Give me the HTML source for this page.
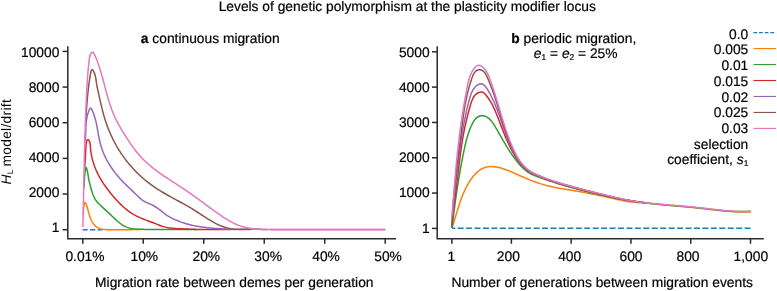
<!DOCTYPE html>
<html><head><meta charset="utf-8"><title>Levels of genetic polymorphism</title>
<style>
html,body{margin:0;padding:0;background:#fff;}
body{width:777px;height:291px;overflow:hidden;}
svg{display:block;}
svg text{font-family:"Liberation Sans",sans-serif;font-size:13.8px;fill:#000;stroke:#000;stroke-width:0.2px;text-rendering:geometricPrecision;}
</style></head><body>
<svg width="777" height="291" viewBox="0 0 777 291">
<defs><filter id="gs" x="0" y="0" width="777" height="291" filterUnits="userSpaceOnUse" color-interpolation-filters="sRGB"><feColorMatrix type="saturate" values="0"/></filter></defs>
<rect width="777" height="291" fill="#fff"/>
<g>
<path d="M82.6 229.8 H102.5" stroke="#1f77b4" stroke-width="1.5" stroke-dasharray="5.3 2.43" stroke-dashoffset="0.3" fill="none"/>
<path d="M83.31 214.84 L83.30 213.58 L83.32 212.27 L83.37 210.88 L83.47 209.38 L83.63 207.73 L83.86 205.90 L84.19 204.01 L84.70 202.75 L85.45 202.84 L86.10 204.08 L86.64 205.56 L87.13 207.04 L87.57 208.53 L87.98 210.01 L88.37 211.48 L88.77 212.95 L89.17 214.39 L89.61 215.83 L90.08 217.23 L90.61 218.62 L91.21 219.97 L91.89 221.30 L92.67 222.58 L93.57 223.83 L94.58 225.02 L95.70 226.13 L96.91 227.12 L98.21 227.96 L99.58 228.62 L101.01 229.07 L102.48 229.31 L103.97 229.45 L105.47 229.55 L106.97 229.63 L108.48 229.69 L109.98 229.74 L111.49 229.77 L113.00 229.78 L114.51 229.79 L116.02 229.79 L117.54 229.78 L119.05 229.76 L120.56 229.74 L122.08 229.73 L123.59 229.71 L125.11 229.69 L126.62 229.68 L128.13 229.66 L129.65 229.65 L131.16 229.63 L132.67 229.62 L134.19 229.61 L135.70 229.60 L137.22 229.58 L138.73 229.57 L140.00 229.60 L141.76 229.60" fill="none" stroke="#ff7f0e" stroke-width="1.5" stroke-linejoin="round" stroke-linecap="butt"/>
<path d="M84.01 187.89 L84.07 186.40 L84.13 184.91 L84.20 183.41 L84.27 181.91 L84.36 180.40 L84.46 178.88 L84.57 177.35 L84.69 175.80 L84.84 174.24 L85.00 172.65 L85.19 171.04 L85.40 169.42 L85.65 168.01 L85.98 167.36 L86.41 167.88 L86.87 169.20 L87.29 170.80 L87.62 172.39 L87.89 173.95 L88.13 175.49 L88.37 177.01 L88.64 178.52 L88.92 180.02 L89.23 181.50 L89.56 182.98 L89.91 184.45 L90.28 185.90 L90.67 187.35 L91.09 188.79 L91.52 190.23 L91.97 191.65 L92.45 193.07 L92.97 194.48 L93.53 195.86 L94.14 197.22 L94.83 198.54 L95.60 199.83 L96.45 201.07 L97.41 202.26 L98.46 203.39 L99.55 204.49 L100.67 205.55 L101.78 206.59 L102.88 207.61 L103.97 208.61 L105.06 209.60 L106.15 210.58 L107.24 211.57 L108.33 212.57 L109.42 213.58 L110.51 214.61 L111.61 215.67 L112.72 216.74 L113.83 217.82 L114.96 218.90 L116.11 219.97 L117.27 221.02 L118.44 222.04 L119.64 223.01 L120.86 223.93 L122.11 224.79 L123.39 225.58 L124.69 226.29 L126.03 226.90 L127.40 227.42 L128.79 227.86 L130.22 228.21 L131.66 228.50 L133.13 228.72 L134.61 228.90 L136.11 229.03 L137.62 229.13 L139.13 229.20 L140.65 229.26 L142.18 229.31 L143.70 229.35 L145.22 229.39 L146.74 229.43 L148.26 229.47 L149.78 229.51 L150.00 229.60 L196.72 229.60" fill="none" stroke="#2ca02c" stroke-width="1.5" stroke-linejoin="round" stroke-linecap="butt"/>
<path d="M84.77 166.87 L84.86 165.39 L84.95 163.91 L85.04 162.43 L85.13 160.94 L85.22 159.44 L85.31 157.94 L85.40 156.42 L85.49 154.89 L85.58 153.35 L85.67 151.79 L85.75 150.21 L85.83 148.61 L85.91 146.99 L86.00 145.37 L86.15 143.78 L86.40 142.29 L86.79 140.95 L87.37 139.90 L88.09 139.59 L88.87 140.23 L89.53 141.41 L89.96 142.79 L90.21 144.30 L90.35 145.87 L90.46 147.47 L90.59 149.07 L90.76 150.64 L90.97 152.20 L91.21 153.74 L91.49 155.26 L91.79 156.77 L92.13 158.27 L92.50 159.75 L92.91 161.21 L93.34 162.66 L93.80 164.09 L94.29 165.51 L94.81 166.92 L95.36 168.31 L95.93 169.69 L96.53 171.05 L97.16 172.41 L97.81 173.75 L98.48 175.08 L99.18 176.39 L99.90 177.70 L100.64 178.99 L101.41 180.27 L102.19 181.54 L103.00 182.80 L103.82 184.05 L104.66 185.29 L105.52 186.51 L106.40 187.73 L107.30 188.94 L108.21 190.14 L109.13 191.33 L110.07 192.52 L111.03 193.69 L112.00 194.86 L112.98 196.02 L113.97 197.17 L114.97 198.31 L115.99 199.44 L117.02 200.57 L118.06 201.68 L119.11 202.77 L120.18 203.85 L121.27 204.91 L122.37 205.96 L123.49 206.98 L124.62 207.97 L125.77 208.94 L126.94 209.89 L128.13 210.81 L129.34 211.69 L130.56 212.55 L131.81 213.37 L133.08 214.15 L134.38 214.90 L135.69 215.61 L137.02 216.29 L138.37 216.94 L139.73 217.56 L141.11 218.16 L142.50 218.74 L143.91 219.31 L145.32 219.86 L146.73 220.39 L148.15 220.93 L149.58 221.45 L151.00 221.98 L152.43 222.51 L153.85 223.05 L155.27 223.59 L156.69 224.14 L158.10 224.68 L159.52 225.21 L160.94 225.72 L162.36 226.19 L163.80 226.63 L165.24 227.03 L166.70 227.37 L168.16 227.66 L169.64 227.90 L171.12 228.11 L172.62 228.28 L174.12 228.42 L175.62 228.54 L177.13 228.64 L178.64 228.72 L180.15 228.80 L181.66 228.87 L183.17 228.93 L184.68 229.00 L186.19 229.06 L187.71 229.12 L189.22 229.18 L190.73 229.23 L192.24 229.28 L193.75 229.33 L195.26 229.38 L196.77 229.42 L198.28 229.46 L199.79 229.50 L201.30 229.54 L202.81 229.57 L204.32 229.60 L205.83 229.60 L207.34 229.60 L208.00 229.60 L231.47 229.60" fill="none" stroke="#d62728" stroke-width="1.5" stroke-linejoin="round" stroke-linecap="butt"/>
<path d="M85.35 141.28 L85.41 139.77 L85.47 138.25 L85.53 136.73 L85.59 135.22 L85.65 133.70 L85.71 132.17 L85.77 130.65 L85.83 129.13 L85.89 127.60 L85.97 126.08 L86.07 124.56 L86.18 123.05 L86.33 121.54 L86.51 120.04 L86.74 118.54 L87.01 117.06 L87.34 115.60 L87.72 114.14 L88.18 112.70 L88.70 111.28 L89.30 109.88 L89.98 108.61 L90.70 108.09 L91.41 108.77 L92.08 110.08 L92.70 111.47 L93.28 112.88 L93.81 114.30 L94.30 115.73 L94.76 117.18 L95.18 118.64 L95.57 120.10 L95.93 121.58 L96.26 123.06 L96.58 124.55 L96.88 126.04 L97.17 127.54 L97.45 129.04 L97.72 130.54 L97.98 132.04 L98.25 133.54 L98.52 135.04 L98.80 136.53 L99.09 138.02 L99.39 139.51 L99.71 140.99 L100.05 142.46 L100.42 143.92 L100.81 145.37 L101.23 146.82 L101.69 148.25 L102.18 149.66 L102.69 151.07 L103.24 152.47 L103.81 153.85 L104.41 155.22 L105.04 156.58 L105.70 157.93 L106.38 159.27 L107.09 160.59 L107.82 161.90 L108.58 163.20 L109.36 164.48 L110.16 165.76 L110.98 167.01 L111.83 168.26 L112.69 169.49 L113.58 170.71 L114.48 171.92 L115.40 173.12 L116.35 174.29 L117.30 175.46 L118.28 176.61 L119.27 177.75 L120.28 178.88 L121.30 179.99 L122.33 181.08 L123.38 182.17 L124.43 183.25 L125.50 184.31 L126.57 185.37 L127.65 186.43 L128.74 187.47 L129.83 188.52 L130.93 189.56 L132.02 190.59 L133.12 191.63 L134.22 192.67 L135.31 193.71 L136.41 194.75 L137.50 195.80 L138.58 196.85 L139.67 197.89 L140.78 198.90 L141.93 199.85 L143.14 200.72 L144.42 201.49 L145.77 202.16 L147.17 202.76 L148.58 203.34 L150.00 203.94 L151.38 204.57 L152.74 205.25 L154.06 205.98 L155.36 206.75 L156.63 207.56 L157.87 208.40 L159.08 209.28 L160.27 210.19 L161.43 211.11 L162.59 212.05 L163.75 212.98 L164.93 213.89 L166.16 214.77 L167.41 215.60 L168.70 216.40 L170.02 217.16 L171.37 217.88 L172.73 218.58 L174.11 219.24 L175.50 219.86 L176.90 220.46 L178.31 221.04 L179.72 221.58 L181.14 222.10 L182.56 222.59 L183.99 223.05 L185.43 223.49 L186.87 223.91 L188.32 224.31 L189.77 224.68 L191.23 225.03 L192.69 225.36 L194.16 225.67 L195.63 225.96 L197.10 226.24 L198.58 226.49 L200.06 226.73 L201.55 226.96 L203.04 227.17 L204.53 227.36 L206.02 227.55 L207.52 227.72 L209.01 227.87 L210.52 228.02 L212.02 228.16 L213.52 228.28 L215.02 228.40 L216.53 228.51 L218.04 228.62 L219.54 228.72 L221.05 228.81 L222.56 228.90 L224.06 228.98 L225.57 229.06 L227.08 229.14 L228.59 229.21 L230.09 229.28 L231.60 229.34 L233.11 229.40 L234.61 229.46 L236.12 229.51 L237.63 229.56 L239.13 229.60 L240.64 229.60 L242.15 229.60 L243.66 229.60 L245.16 229.60 L246.00 229.60 L251.19 229.60" fill="none" stroke="#9467bd" stroke-width="1.5" stroke-linejoin="round" stroke-linecap="butt"/>
<path d="M85.71 121.58 L85.80 120.08 L85.89 118.58 L85.98 117.08 L86.07 115.58 L86.17 114.08 L86.27 112.58 L86.37 111.08 L86.47 109.58 L86.58 108.08 L86.69 106.59 L86.81 105.09 L86.92 103.59 L87.05 102.10 L87.17 100.60 L87.30 99.11 L87.43 97.61 L87.57 96.12 L87.71 94.62 L87.86 93.12 L88.02 91.62 L88.18 90.12 L88.36 88.61 L88.54 87.10 L88.73 85.59 L88.93 84.08 L89.13 82.56 L89.36 81.03 L89.59 79.50 L89.83 77.97 L90.09 76.43 L90.36 74.89 L90.64 73.33 L90.94 71.79 L91.30 70.45 L91.81 69.68 L92.53 69.79 L93.35 70.80 L94.11 72.36 L94.74 74.01 L95.22 75.59 L95.58 77.11 L95.85 78.59 L96.07 80.04 L96.25 81.48 L96.44 82.91 L96.66 84.35 L96.91 85.80 L97.19 87.26 L97.49 88.72 L97.82 90.20 L98.15 91.68 L98.49 93.16 L98.82 94.64 L99.16 96.12 L99.49 97.60 L99.82 99.08 L100.16 100.55 L100.49 102.03 L100.83 103.50 L101.17 104.97 L101.52 106.44 L101.87 107.91 L102.23 109.37 L102.60 110.83 L102.98 112.29 L103.37 113.74 L103.77 115.19 L104.19 116.64 L104.61 118.08 L105.06 119.52 L105.52 120.96 L105.99 122.39 L106.48 123.81 L106.98 125.23 L107.50 126.64 L108.04 128.05 L108.59 129.46 L109.15 130.85 L109.74 132.24 L110.33 133.63 L110.94 135.00 L111.57 136.37 L112.22 137.74 L112.88 139.09 L113.55 140.44 L114.24 141.78 L114.95 143.11 L115.67 144.44 L116.40 145.75 L117.16 147.06 L117.93 148.36 L118.71 149.65 L119.51 150.93 L120.32 152.20 L121.16 153.46 L122.00 154.70 L122.86 155.94 L123.74 157.17 L124.63 158.39 L125.54 159.60 L126.46 160.79 L127.40 161.98 L128.35 163.15 L129.31 164.32 L130.29 165.47 L131.28 166.61 L132.29 167.73 L133.31 168.85 L134.34 169.95 L135.38 171.04 L136.44 172.11 L137.51 173.18 L138.59 174.23 L139.69 175.26 L140.79 176.29 L141.91 177.30 L143.04 178.29 L144.19 179.27 L145.34 180.24 L146.50 181.19 L147.68 182.13 L148.87 183.05 L150.06 183.96 L151.27 184.86 L152.49 185.73 L153.72 186.59 L154.95 187.44 L156.20 188.27 L157.46 189.09 L158.72 189.89 L159.99 190.69 L161.27 191.47 L162.56 192.24 L163.85 193.00 L165.15 193.75 L166.45 194.50 L167.76 195.24 L169.07 195.97 L170.39 196.70 L171.71 197.42 L173.03 198.15 L174.35 198.87 L175.68 199.58 L177.01 200.30 L178.33 201.02 L179.66 201.74 L180.99 202.47 L182.31 203.19 L183.64 203.92 L184.96 204.66 L186.28 205.40 L187.60 206.15 L188.91 206.91 L190.22 207.68 L191.53 208.45 L192.83 209.24 L194.12 210.04 L195.41 210.85 L196.69 211.67 L197.97 212.50 L199.25 213.33 L200.52 214.17 L201.79 215.00 L203.06 215.84 L204.33 216.67 L205.61 217.49 L206.88 218.31 L208.16 219.11 L209.44 219.90 L210.73 220.67 L212.02 221.43 L213.33 222.16 L214.63 222.87 L215.95 223.56 L217.28 224.21 L218.62 224.84 L219.96 225.44 L221.33 226.00 L222.70 226.52 L224.09 227.00 L225.49 227.44 L226.91 227.84 L228.35 228.19 L229.81 228.48 L231.28 228.73 L232.77 228.93 L234.29 229.07 L235.82 229.17 L237.36 229.23 L238.91 229.25 L240.47 229.25 L242.03 229.23 L243.60 229.19 L245.16 229.15 L246.72 229.10 L248.28 229.06 L249.83 229.02 L251.36 229.01 L252.88 229.01 L254.39 229.02 L255.89 229.05 L257.39 229.09 L258.87 229.14 L260.35 229.20 L261.83 229.26 L262.00 229.60 L267.71 229.60" fill="none" stroke="#8c564b" stroke-width="1.5" stroke-linejoin="round" stroke-linecap="butt"/>
<path d="M82.90 227.10 L82.93 225.60 L82.97 224.10 L83.00 222.60 L83.03 221.09 L83.07 219.59 L83.10 218.09 L83.13 216.58 L83.16 215.08 L83.19 213.57 L83.22 212.07 L83.25 210.56 L83.29 209.06 L83.32 207.55 L83.35 206.05 L83.38 204.54 L83.41 203.03 L83.44 201.53 L83.47 200.02 L83.50 198.51 L83.53 197.00 L83.56 195.49 L83.59 193.99 L83.62 192.48 L83.65 190.97 L83.68 189.46 L83.71 187.95 L83.74 186.44 L83.77 184.93 L83.80 183.42 L83.83 181.91 L83.86 180.40 L83.89 178.89 L83.92 177.38 L83.95 175.87 L83.98 174.36 L84.02 172.85 L84.05 171.34 L84.08 169.83 L84.11 168.32 L84.15 166.81 L84.18 165.30 L84.21 163.78 L84.25 162.27 L84.28 160.76 L84.32 159.25 L84.36 157.74 L84.39 156.23 L84.43 154.72 L84.47 153.21 L84.50 151.70 L84.54 150.19 L84.58 148.68 L84.62 147.17 L84.66 145.66 L84.70 144.15 L84.75 142.65 L84.79 141.14 L84.83 139.63 L84.88 138.12 L84.92 136.61 L84.97 135.10 L85.01 133.60 L85.06 132.09 L85.11 130.58 L85.16 129.08 L85.21 127.57 L85.26 126.06 L85.31 124.56 L85.36 123.05 L85.42 121.55 L85.47 120.04 L85.53 118.54 L85.58 117.03 L85.64 115.53 L85.70 114.03 L85.76 112.52 L85.82 111.02 L85.88 109.52 L85.94 108.02 L86.01 106.52 L86.07 105.02 L86.14 103.52 L86.21 102.02 L86.28 100.52 L86.35 99.02 L86.42 97.53 L86.49 96.03 L86.56 94.53 L86.64 93.04 L86.72 91.54 L86.80 90.05 L86.88 88.55 L86.96 87.06 L87.04 85.57 L87.12 84.07 L87.21 82.58 L87.31 81.08 L87.40 79.58 L87.50 78.08 L87.61 76.57 L87.72 75.06 L87.84 73.55 L87.96 72.03 L88.09 70.50 L88.23 68.97 L88.38 67.42 L88.53 65.88 L88.70 64.32 L88.87 62.75 L89.06 61.17 L89.25 59.59 L89.48 58.01 L89.77 56.47 L90.17 55.03 L90.72 53.73 L91.46 52.62 L92.31 52.06 L93.11 52.47 L93.85 53.54 L94.54 54.79 L95.18 56.11 L95.79 57.49 L96.38 58.90 L96.93 60.34 L97.47 61.77 L98.00 63.22 L98.50 64.66 L99.00 66.11 L99.48 67.57 L99.94 69.02 L100.39 70.48 L100.84 71.95 L101.27 73.41 L101.69 74.87 L102.11 76.34 L102.52 77.81 L102.92 79.27 L103.32 80.74 L103.71 82.21 L104.10 83.67 L104.49 85.14 L104.88 86.61 L105.27 88.07 L105.66 89.53 L106.05 90.99 L106.45 92.45 L106.85 93.91 L107.25 95.36 L107.66 96.81 L108.08 98.25 L108.51 99.69 L108.94 101.13 L109.39 102.56 L109.84 103.99 L110.31 105.41 L110.80 106.83 L111.29 108.24 L111.80 109.64 L112.33 111.04 L112.88 112.43 L113.44 113.81 L114.02 115.19 L114.63 116.56 L115.25 117.92 L115.89 119.27 L116.56 120.61 L117.24 121.95 L117.94 123.28 L118.65 124.61 L119.38 125.92 L120.12 127.24 L120.88 128.55 L121.65 129.85 L122.43 131.15 L123.22 132.44 L124.01 133.73 L124.82 135.02 L125.63 136.30 L126.45 137.59 L127.28 138.86 L128.12 140.14 L128.96 141.40 L129.81 142.66 L130.67 143.92 L131.54 145.16 L132.42 146.40 L133.32 147.63 L134.22 148.84 L135.14 150.04 L136.07 151.23 L137.02 152.41 L137.98 153.57 L138.95 154.72 L139.94 155.85 L140.95 156.96 L141.98 158.05 L143.02 159.13 L144.08 160.18 L145.15 161.22 L146.24 162.24 L147.35 163.25 L148.47 164.24 L149.60 165.22 L150.75 166.18 L151.91 167.13 L153.08 168.06 L154.26 168.98 L155.45 169.90 L156.65 170.80 L157.86 171.69 L159.08 172.57 L160.31 173.44 L161.54 174.31 L162.79 175.17 L164.03 176.02 L165.29 176.86 L166.54 177.70 L167.80 178.54 L169.07 179.37 L170.34 180.20 L171.61 181.02 L172.88 181.85 L174.15 182.67 L175.42 183.49 L176.69 184.31 L177.96 185.14 L179.23 185.96 L180.50 186.79 L181.76 187.62 L183.02 188.45 L184.28 189.28 L185.53 190.13 L186.78 190.97 L188.02 191.83 L189.25 192.68 L190.48 193.55 L191.71 194.41 L192.93 195.29 L194.15 196.16 L195.36 197.04 L196.57 197.92 L197.79 198.81 L198.99 199.69 L200.20 200.58 L201.41 201.47 L202.62 202.36 L203.82 203.25 L205.03 204.14 L206.24 205.04 L207.45 205.93 L208.66 206.82 L209.87 207.70 L211.09 208.59 L212.31 209.47 L213.53 210.36 L214.76 211.24 L215.99 212.11 L217.23 212.98 L218.47 213.85 L219.72 214.71 L220.98 215.57 L222.24 216.42 L223.51 217.26 L224.78 218.09 L226.07 218.90 L227.36 219.70 L228.67 220.47 L229.98 221.23 L231.31 221.95 L232.64 222.65 L233.99 223.32 L235.35 223.96 L236.73 224.56 L238.11 225.12 L239.51 225.64 L240.93 226.12 L242.36 226.55 L243.80 226.95 L245.25 227.31 L246.72 227.63 L248.19 227.92 L249.67 228.18 L251.16 228.41 L252.65 228.62 L254.14 228.80 L255.64 228.96 L257.14 229.10 L258.64 229.22 L260.14 229.32 L261.65 229.41 L263.15 229.48 L264.66 229.54 L266.17 229.59 L267.67 229.60 L269.18 229.60 L270.69 229.60 L272.20 229.60 L273.71 229.60 L275.22 229.60 L276.73 229.60 L278.24 229.60 L279.75 229.60 L281.26 229.60 L282.78 229.59 L283.00 229.60 L385.30 229.60" fill="none" stroke="#e377c2" stroke-width="1.5" stroke-linejoin="round" stroke-linecap="butt"/>
<path d="M270 229.65 H385.3" stroke="#e377c2" stroke-width="1.8" fill="none"/>
<path d="M452.1 228.25 H750.5" stroke="#1f77b4" stroke-width="1.5" stroke-dasharray="6.0 2.44" stroke-dashoffset="2.9" fill="none"/>
<path d="M452.00 227.80 L452.49 226.35 L452.97 224.89 L453.44 223.44 L453.90 221.99 L454.35 220.55 L454.79 219.10 L455.23 217.66 L455.67 216.21 L456.10 214.77 L456.53 213.34 L456.96 211.90 L457.40 210.47 L457.84 209.04 L458.28 207.62 L458.73 206.20 L459.19 204.78 L459.66 203.36 L460.14 201.95 L460.63 200.55 L461.14 199.14 L461.66 197.74 L462.20 196.35 L462.75 194.96 L463.33 193.57 L463.93 192.19 L464.56 190.82 L465.20 189.45 L465.88 188.08 L466.58 186.72 L467.31 185.37 L468.07 184.02 L468.86 182.68 L469.69 181.35 L470.55 180.03 L471.44 178.74 L472.37 177.48 L473.33 176.25 L474.33 175.06 L475.36 173.93 L476.42 172.86 L477.52 171.84 L478.65 170.90 L479.82 170.04 L481.03 169.26 L482.27 168.57 L483.55 167.99 L484.86 167.50 L486.21 167.13 L487.59 166.85 L489.00 166.67 L490.43 166.57 L491.88 166.57 L493.34 166.64 L494.82 166.78 L496.31 167.00 L497.81 167.28 L499.31 167.61 L500.80 168.01 L502.30 168.45 L503.78 168.93 L505.25 169.45 L506.71 170.00 L508.15 170.58 L509.58 171.18 L511.00 171.80 L512.41 172.42 L513.82 173.04 L515.22 173.66 L516.61 174.28 L518.01 174.89 L519.40 175.50 L520.79 176.11 L522.18 176.70 L523.56 177.30 L524.95 177.88 L526.33 178.46 L527.72 179.03 L529.11 179.59 L530.50 180.14 L531.89 180.68 L533.28 181.21 L534.68 181.73 L536.08 182.23 L537.49 182.72 L538.90 183.20 L540.32 183.66 L541.74 184.11 L543.17 184.54 L544.60 184.96 L546.05 185.36 L547.50 185.74 L548.96 186.10 L550.43 186.45 L551.90 186.79 L553.38 187.11 L554.86 187.42 L556.35 187.72 L557.84 188.01 L559.34 188.29 L560.84 188.56 L562.34 188.82 L563.84 189.08 L565.35 189.34 L566.85 189.59 L568.36 189.83 L569.86 190.08 L571.37 190.32 L572.87 190.56 L574.37 190.81 L575.87 191.05 L577.37 191.30 L578.86 191.56 L580.35 191.81 L581.83 192.07 L583.32 192.34 L584.80 192.60 L586.28 192.88 L587.76 193.15 L589.23 193.43 L590.71 193.71 L592.18 194.00 L593.65 194.29 L595.12 194.59 L596.59 194.89 L598.06 195.20 L599.53 195.50 L601.00 195.82 L602.47 196.14 L603.94 196.46 L605.41 196.79 L606.88 197.12 L608.35 197.46 L609.83 197.79 L611.30 198.13 L612.77 198.47 L614.25 198.80 L615.73 199.13 L617.21 199.45 L618.69 199.77 L620.17 200.07 L621.65 200.37 L623.14 200.66 L624.62 200.93 L626.11 201.19 L627.60 201.43 L629.09 201.65 L630.59 201.86 L632.08 202.05 L633.58 202.22 L635.08 202.37 L636.58 202.50 L638.09 202.63 L639.59 202.74 L641.09 202.84 L642.60 202.93 L644.11 203.02 L645.61 203.11 L647.12 203.19 L648.63 203.27 L650.14 203.36 L651.64 203.45 L653.15 203.54 L654.66 203.64 L656.16 203.74 L657.67 203.85 L659.28 204.07 L660.78 204.27 L662.28 204.47 L663.79 204.66 L665.29 204.86 L666.80 205.05 L668.30 205.24 L669.81 205.43 L671.32 205.62 L672.82 205.80 L674.33 205.91 L675.83 206.03 L677.34 206.14 L678.85 206.26 L680.35 206.38 L681.86 206.51 L683.36 206.63 L684.86 206.76 L686.37 206.89 L687.87 207.03 L689.37 207.17 L690.87 207.31 L692.37 207.46 L693.87 207.62 L695.37 207.77 L696.87 207.94 L698.37 208.10 L699.86 208.27 L701.36 208.44 L702.86 208.61 L704.35 208.78 L705.85 208.95 L707.34 209.12 L708.84 209.29 L710.33 209.46 L711.83 209.63 L713.32 209.80 L714.82 209.96 L716.31 210.13 L717.81 210.28 L719.30 210.44 L720.80 210.59 L722.30 210.74 L723.79 210.88 L725.29 211.01 L726.79 211.14 L728.29 211.27 L729.79 211.38 L731.29 211.49 L732.79 211.59 L734.29 211.68 L735.80 211.77 L737.30 211.84 L738.81 211.90 L740.31 211.96 L741.82 212.00 L743.33 212.03 L744.84 212.05 L746.35 212.06 L747.87 212.05 L749.38 212.03 L750.90 212.00" fill="none" stroke="#ff7f0e" stroke-width="1.5" stroke-linejoin="round" stroke-linecap="butt"/>
<path d="M452.00 227.80 L452.18 226.31 L452.35 224.82 L452.53 223.33 L452.71 221.83 L452.89 220.34 L453.08 218.85 L453.26 217.35 L453.45 215.86 L453.64 214.36 L453.83 212.87 L454.02 211.37 L454.22 209.88 L454.41 208.38 L454.61 206.89 L454.81 205.39 L455.01 203.90 L455.22 202.40 L455.42 200.91 L455.63 199.41 L455.84 197.92 L456.06 196.42 L456.27 194.93 L456.49 193.43 L456.71 191.94 L456.93 190.45 L457.16 188.95 L457.38 187.46 L457.61 185.97 L457.85 184.48 L458.08 182.99 L458.32 181.50 L458.56 180.01 L458.81 178.52 L459.05 177.03 L459.30 175.54 L459.55 174.06 L459.81 172.57 L460.07 171.09 L460.33 169.60 L460.59 168.12 L460.86 166.64 L461.13 165.16 L461.41 163.68 L461.69 162.20 L461.97 160.72 L462.25 159.25 L462.54 157.77 L462.83 156.30 L463.13 154.83 L463.42 153.36 L463.73 151.89 L464.03 150.42 L464.34 148.96 L464.66 147.49 L464.98 146.03 L465.31 144.57 L465.65 143.11 L466.01 141.66 L466.38 140.21 L466.76 138.76 L467.17 137.31 L467.59 135.86 L468.04 134.42 L468.51 132.99 L469.01 131.55 L469.54 130.12 L470.10 128.70 L470.69 127.28 L471.31 125.86 L471.97 124.45 L472.68 123.05 L473.44 121.69 L474.27 120.40 L475.18 119.20 L476.20 118.14 L477.34 117.23 L478.59 116.51 L479.92 115.99 L481.31 115.71 L482.72 115.70 L484.12 115.94 L485.51 116.41 L486.85 117.09 L488.13 117.92 L489.34 118.89 L490.46 119.97 L491.48 121.12 L492.41 122.34 L493.28 123.60 L494.11 124.89 L494.90 126.20 L495.68 127.52 L496.45 128.83 L497.22 130.15 L497.98 131.46 L498.73 132.77 L499.49 134.08 L500.24 135.39 L500.98 136.70 L501.73 138.01 L502.48 139.31 L503.23 140.60 L503.98 141.90 L504.74 143.19 L505.50 144.47 L506.27 145.76 L507.05 147.03 L507.83 148.30 L508.63 149.57 L509.43 150.83 L510.25 152.08 L511.08 153.33 L511.92 154.56 L512.78 155.80 L513.65 157.02 L514.54 158.23 L515.44 159.44 L516.37 160.64 L517.32 161.83 L518.29 163.01 L519.28 164.17 L520.29 165.31 L521.33 166.43 L522.40 167.52 L523.50 168.57 L524.63 169.58 L525.79 170.54 L526.99 171.45 L528.22 172.30 L529.48 173.09 L530.79 173.81 L532.12 174.47 L533.49 175.09 L534.87 175.67 L536.27 176.22 L537.68 176.75 L539.10 177.26 L540.52 177.77 L541.94 178.28 L543.36 178.78 L544.78 179.27 L546.21 179.76 L547.64 180.24 L549.07 180.72 L550.50 181.20 L551.93 181.66 L553.36 182.13 L554.80 182.59 L556.24 183.04 L557.68 183.49 L559.12 183.94 L560.56 184.38 L562.00 184.81 L563.44 185.24 L564.89 185.67 L566.34 186.09 L567.78 186.51 L569.23 186.92 L570.68 187.33 L572.13 187.74 L573.59 188.14 L575.04 188.54 L576.50 188.93 L577.95 189.32 L579.41 189.71 L580.87 190.09 L582.33 190.47 L583.79 190.84 L585.25 191.21 L586.71 191.58 L588.17 191.94 L589.63 192.30 L591.10 192.66 L592.56 193.01 L594.03 193.36 L595.50 193.71 L596.96 194.05 L598.43 194.39 L599.90 194.73 L601.37 195.06 L602.84 195.39 L604.31 195.72 L605.78 196.04 L607.25 196.36 L608.72 196.67 L610.20 196.98 L611.67 197.29 L613.14 197.59 L614.62 197.89 L616.10 198.18 L617.57 198.47 L619.05 198.75 L620.53 199.03 L622.01 199.30 L623.49 199.57 L624.97 199.84 L626.45 200.09 L627.94 200.35 L629.42 200.59 L630.90 200.83 L632.39 201.07 L633.88 201.30 L635.36 201.52 L636.85 201.74 L638.34 201.95 L639.83 202.15 L641.32 202.35 L642.82 202.54 L644.31 202.72 L645.80 202.90 L647.28 203.10 L648.78 203.29 L650.27 203.48 L651.77 203.66 L653.27 203.84 L654.77 204.01 L656.27 204.18 L657.77 204.34 L659.28 204.50 L660.78 204.65 L662.28 204.78 L663.79 204.90 L665.29 205.02 L666.80 205.13 L668.30 205.25 L669.81 205.37 L671.32 205.48 L672.82 205.60 L674.33 205.71 L675.83 205.83 L677.34 205.94 L678.85 206.06 L680.35 206.18 L681.86 206.31 L683.36 206.43 L684.86 206.56 L686.37 206.69 L687.87 206.83 L689.37 206.97 L690.87 207.11 L692.37 207.26 L693.87 207.42 L695.37 207.57 L696.87 207.74 L698.37 207.90 L699.86 208.07 L701.36 208.24 L702.86 208.41 L704.35 208.58 L705.85 208.75 L707.34 208.92 L708.84 209.09 L710.33 209.26 L711.83 209.43 L713.32 209.60 L714.82 209.76 L716.31 209.93 L717.81 210.08 L719.30 210.24 L720.80 210.39 L722.30 210.54 L723.79 210.68 L725.29 210.81 L726.79 210.94 L728.29 211.07 L729.79 211.18 L731.29 211.29 L732.79 211.39 L734.29 211.48 L735.80 211.54 L737.30 211.55 L738.81 211.56 L740.31 211.56 L741.82 211.54 L743.33 211.52 L744.84 211.48 L746.35 211.43 L747.87 211.37 L749.38 211.29 L750.90 211.20" fill="none" stroke="#2ca02c" stroke-width="1.5" stroke-linejoin="round" stroke-linecap="butt"/>
<path d="M452.00 227.80 L452.08 226.28 L452.18 224.76 L452.28 223.25 L452.39 221.73 L452.50 220.23 L452.63 218.72 L452.76 217.22 L452.90 215.72 L453.04 214.22 L453.19 212.72 L453.35 211.23 L453.51 209.73 L453.68 208.24 L453.85 206.75 L454.03 205.26 L454.21 203.78 L454.39 202.29 L454.57 200.80 L454.76 199.31 L454.95 197.83 L455.15 196.34 L455.34 194.86 L455.54 193.37 L455.73 191.88 L455.93 190.39 L456.13 188.90 L456.32 187.41 L456.52 185.92 L456.71 184.43 L456.90 182.94 L457.10 181.44 L457.28 179.94 L457.47 178.44 L457.66 176.94 L457.84 175.43 L458.02 173.93 L458.20 172.42 L458.38 170.91 L458.56 169.40 L458.73 167.90 L458.91 166.39 L459.09 164.88 L459.27 163.37 L459.45 161.86 L459.63 160.35 L459.82 158.85 L460.01 157.34 L460.20 155.84 L460.39 154.34 L460.58 152.84 L460.78 151.34 L460.99 149.85 L461.19 148.35 L461.41 146.87 L461.62 145.38 L461.85 143.90 L462.08 142.42 L462.31 140.95 L462.55 139.48 L462.80 138.01 L463.05 136.55 L463.31 135.10 L463.58 133.64 L463.86 132.20 L464.14 130.75 L464.44 129.30 L464.74 127.86 L465.04 126.41 L465.36 124.96 L465.68 123.51 L466.02 122.06 L466.36 120.60 L466.71 119.14 L467.07 117.68 L467.43 116.20 L467.81 114.73 L468.19 113.24 L468.59 111.74 L468.99 110.24 L469.41 108.72 L469.83 107.20 L470.26 105.66 L470.71 104.12 L471.19 102.59 L471.71 101.10 L472.29 99.66 L472.93 98.29 L473.66 97.00 L474.48 95.81 L475.40 94.75 L476.45 93.82 L477.63 93.05 L478.93 92.46 L480.32 92.12 L481.71 92.09 L483.03 92.45 L484.22 93.24 L485.31 94.33 L486.32 95.54 L487.29 96.77 L488.20 98.01 L489.08 99.28 L489.91 100.56 L490.70 101.86 L491.45 103.17 L492.18 104.50 L492.87 105.84 L493.54 107.20 L494.18 108.56 L494.79 109.93 L495.39 111.31 L495.98 112.70 L496.55 114.10 L497.11 115.50 L497.66 116.90 L498.20 118.31 L498.75 119.72 L499.29 121.13 L499.83 122.54 L500.37 123.95 L500.91 125.36 L501.45 126.78 L501.99 128.19 L502.54 129.60 L503.09 131.00 L503.65 132.41 L504.21 133.81 L504.77 135.21 L505.35 136.61 L505.93 138.00 L506.53 139.38 L507.13 140.76 L507.74 142.14 L508.37 143.51 L509.01 144.87 L509.66 146.22 L510.33 147.57 L511.01 148.91 L511.71 150.24 L512.42 151.56 L513.16 152.87 L513.91 154.17 L514.68 155.46 L515.47 156.74 L516.28 158.01 L517.12 159.27 L517.98 160.51 L518.86 161.74 L519.77 162.95 L520.70 164.15 L521.67 165.32 L522.67 166.45 L523.71 167.54 L524.79 168.59 L525.91 169.58 L527.07 170.51 L528.29 171.37 L529.56 172.16 L530.88 172.86 L532.26 173.49 L533.67 174.06 L535.10 174.60 L536.55 175.12 L537.99 175.65 L539.41 176.20 L540.81 176.78 L542.19 177.39 L543.56 178.00 L544.93 178.61 L546.31 179.21 L547.70 179.78 L549.09 180.33 L550.49 180.87 L551.90 181.39 L553.31 181.89 L554.73 182.37 L556.16 182.84 L557.60 183.30 L559.03 183.74 L560.48 184.17 L561.92 184.59 L563.37 185.00 L564.83 185.40 L566.29 185.80 L567.75 186.18 L569.21 186.57 L570.67 186.94 L572.13 187.32 L573.60 187.69 L575.06 188.06 L576.53 188.43 L577.99 188.80 L579.45 189.17 L580.92 189.54 L582.38 189.91 L583.84 190.28 L585.30 190.65 L586.76 191.02 L588.23 191.39 L589.69 191.76 L591.15 192.12 L592.61 192.49 L594.07 192.86 L595.53 193.22 L596.99 193.58 L598.46 193.94 L599.92 194.30 L601.38 194.66 L602.85 195.01 L604.31 195.36 L605.78 195.71 L607.24 196.06 L608.71 196.40 L610.18 196.74 L611.65 197.07 L613.12 197.41 L614.59 197.73 L616.06 198.05 L617.54 198.37 L619.01 198.68 L620.49 198.98 L621.96 199.28 L623.44 199.57 L624.92 199.85 L626.40 200.12 L627.88 200.39 L629.37 200.64 L630.85 200.89 L632.34 201.13 L633.82 201.36 L635.31 201.58 L636.80 201.79 L638.29 201.99 L639.78 202.19 L641.28 202.38 L642.77 202.56 L644.27 202.74 L645.76 202.91" fill="none" stroke="#d62728" stroke-width="1.5" stroke-linejoin="round" stroke-linecap="butt"/>
<path d="M452.00 227.80 L452.05 226.29 L452.11 224.78 L452.18 223.27 L452.25 221.76 L452.33 220.26 L452.42 218.75 L452.51 217.25 L452.61 215.75 L452.72 214.24 L452.83 212.74 L452.94 211.24 L453.06 209.74 L453.19 208.24 L453.32 206.74 L453.45 205.25 L453.59 203.75 L453.73 202.25 L453.87 200.76 L454.02 199.26 L454.17 197.76 L454.33 196.27 L454.48 194.77 L454.64 193.27 L454.81 191.78 L454.97 190.28 L455.14 188.79 L455.30 187.29 L455.47 185.79 L455.64 184.30 L455.81 182.80 L455.98 181.30 L456.16 179.80 L456.33 178.31 L456.50 176.81 L456.67 175.31 L456.85 173.81 L457.02 172.31 L457.20 170.81 L457.37 169.31 L457.55 167.81 L457.73 166.31 L457.91 164.81 L458.09 163.31 L458.28 161.81 L458.46 160.32 L458.65 158.82 L458.84 157.32 L459.03 155.82 L459.22 154.33 L459.42 152.83 L459.62 151.34 L459.82 149.85 L460.02 148.35 L460.23 146.86 L460.44 145.37 L460.65 143.88 L460.87 142.40 L461.09 140.91 L461.31 139.43 L461.54 137.94 L461.77 136.46 L462.00 134.98 L462.24 133.50 L462.48 132.03 L462.73 130.55 L462.98 129.08 L463.23 127.60 L463.50 126.13 L463.76 124.65 L464.03 123.18 L464.31 121.71 L464.59 120.24 L464.88 118.76 L465.18 117.29 L465.48 115.82 L465.79 114.34 L466.10 112.87 L466.42 111.39 L466.75 109.91 L467.09 108.44 L467.43 106.96 L467.78 105.47 L468.14 103.99 L468.51 102.51 L468.88 101.02 L469.27 99.53 L469.68 98.06 L470.12 96.59 L470.60 95.15 L471.13 93.73 L471.72 92.36 L472.39 91.02 L473.14 89.74 L473.98 88.51 L474.92 87.35 L475.98 86.26 L477.15 85.26 L478.43 84.43 L479.79 83.90 L481.18 83.82 L482.56 84.17 L483.85 84.88 L484.98 85.87 L485.95 87.05 L486.81 88.34 L487.61 89.67 L488.40 91.00 L489.16 92.33 L489.89 93.67 L490.61 95.02 L491.30 96.37 L491.98 97.72 L492.63 99.08 L493.27 100.44 L493.89 101.81 L494.50 103.18 L495.09 104.56 L495.66 105.94 L496.23 107.33 L496.78 108.72 L497.32 110.11 L497.86 111.51 L498.38 112.92 L498.90 114.32 L499.41 115.73 L499.91 117.15 L500.41 118.57 L500.91 119.99 L501.40 121.42 L501.89 122.85 L502.38 124.28 L502.87 125.71 L503.37 127.14 L503.86 128.57 L504.36 130.00 L504.86 131.43 L505.37 132.86 L505.89 134.28 L506.41 135.70 L506.94 137.12 L507.49 138.53 L508.04 139.94 L508.60 141.34 L509.18 142.74 L509.77 144.12 L510.37 145.50 L511.00 146.88 L511.63 148.24 L512.29 149.59 L512.96 150.93 L513.66 152.26 L514.37 153.58 L515.11 154.89 L515.87 156.19 L516.65 157.47 L517.46 158.73 L518.30 159.99 L519.16 161.22 L520.05 162.44 L520.97 163.64 L521.93 164.82 L522.91 165.96 L523.94 167.06 L525.01 168.12 L526.12 169.12 L527.28 170.06 L528.48 170.94 L529.74 171.75 L531.05 172.47 L532.41 173.13 L533.81 173.72 L535.24 174.28 L536.67 174.83 L538.10 175.37 L539.51 175.94 L540.91 176.53 L542.29 177.14 L543.66 177.76 L545.03 178.36 L546.41 178.96 L547.80 179.53 L549.19 180.08 L550.60 180.61 L552.00 181.12 L553.42 181.62 L554.84 182.10 L556.27 182.57 L557.70 183.03 L559.14 183.47 L560.59 183.90 L562.03 184.32 L563.48 184.73 L564.94 185.13 L566.39 185.52 L567.85 185.91 L569.31 186.29 L570.78 186.67 L572.24 187.04 L573.70 187.42 L575.17 187.79 L576.63 188.16 L578.09 188.53 L579.56 188.90 L581.02 189.27 L582.48 189.64 L583.94 190.01 L585.40 190.38 L586.86 190.75 L588.32 191.12 L589.78 191.49 L591.24 191.86 L592.70 192.23 L594.16 192.60 L595.62 192.96 L597.08 193.33 L598.54 193.69 L600.01 194.06 L601.47 194.42 L602.93 194.78 L604.39 195.13 L605.86 195.49 L607.32 195.84 L608.79 196.19 L610.25 196.54 L611.72 196.89 L613.19 197.23 L614.66 197.56 L616.13 197.89 L617.60 198.22 L619.07 198.54 L620.54 198.85 L622.02 199.16 L623.49 199.46 L624.97 199.75 L626.45 200.03 L627.93 200.30 L629.41 200.57 L630.89 200.83 L632.38 201.07 L633.86 201.31 L635.35 201.53 L636.84 201.75 L638.33 201.96 L639.82 202.16 L641.31 202.36 L642.80 202.54 L644.30 202.72 L645.79 202.90" fill="none" stroke="#9467bd" stroke-width="1.5" stroke-linejoin="round" stroke-linecap="butt"/>
<path d="M452.00 227.80 L452.03 226.30 L452.07 224.79 L452.11 223.29 L452.16 221.78 L452.21 220.28 L452.27 218.78 L452.33 217.27 L452.41 215.77 L452.48 214.27 L452.56 212.77 L452.65 211.27 L452.74 209.76 L452.84 208.26 L452.94 206.76 L453.05 205.26 L453.16 203.76 L453.27 202.26 L453.39 200.76 L453.52 199.26 L453.64 197.77 L453.78 196.27 L453.91 194.77 L454.05 193.27 L454.19 191.77 L454.34 190.27 L454.49 188.78 L454.64 187.28 L454.79 185.78 L454.95 184.29 L455.11 182.79 L455.28 181.29 L455.44 179.80 L455.61 178.30 L455.78 176.80 L455.95 175.31 L456.13 173.81 L456.30 172.32 L456.48 170.82 L456.66 169.33 L456.84 167.83 L457.02 166.34 L457.20 164.84 L457.39 163.35 L457.57 161.85 L457.76 160.36 L457.95 158.86 L458.13 157.37 L458.32 155.87 L458.51 154.38 L458.70 152.89 L458.89 151.39 L459.07 149.90 L459.26 148.40 L459.45 146.91 L459.64 145.42 L459.82 143.92 L460.01 142.43 L460.19 140.94 L460.38 139.44 L460.56 137.95 L460.74 136.45 L460.92 134.96 L461.10 133.47 L461.28 131.97 L461.46 130.48 L461.64 128.99 L461.83 127.50 L462.01 126.00 L462.20 124.51 L462.39 123.02 L462.58 121.53 L462.77 120.04 L462.98 118.55 L463.18 117.06 L463.39 115.57 L463.61 114.09 L463.83 112.60 L464.06 111.12 L464.29 109.63 L464.53 108.15 L464.78 106.67 L465.04 105.19 L465.31 103.71 L465.59 102.23 L465.88 100.76 L466.17 99.28 L466.48 97.81 L466.80 96.34 L467.13 94.87 L467.47 93.40 L467.83 91.94 L468.19 90.47 L468.58 89.01 L468.97 87.55 L469.38 86.10 L469.81 84.64 L470.25 83.19 L470.70 81.74 L471.17 80.29 L471.66 78.84 L472.17 77.40 L472.70 75.96 L473.30 74.56 L474.03 73.25 L474.94 72.04 L476.05 71.00 L477.32 70.21 L478.67 69.75 L480.07 69.69 L481.45 70.05 L482.74 70.74 L483.90 71.70 L484.88 72.84 L485.71 74.11 L486.43 75.48 L487.08 76.89 L487.71 78.31 L488.33 79.72 L488.93 81.14 L489.51 82.55 L490.08 83.97 L490.64 85.38 L491.18 86.79 L491.72 88.20 L492.24 89.62 L492.75 91.03 L493.25 92.44 L493.75 93.86 L494.23 95.28 L494.71 96.69 L495.18 98.11 L495.64 99.53 L496.10 100.95 L496.56 102.38 L497.01 103.81 L497.45 105.23 L497.90 106.66 L498.34 108.10 L498.78 109.53 L499.22 110.97 L499.66 112.40 L500.10 113.84 L500.54 115.28 L500.99 116.72 L501.43 118.15 L501.88 119.59 L502.33 121.03 L502.78 122.47 L503.24 123.90 L503.70 125.34 L504.17 126.77 L504.65 128.20 L505.13 129.63 L505.62 131.06 L506.11 132.49 L506.62 133.91 L507.13 135.33 L507.66 136.75 L508.19 138.16 L508.74 139.57 L509.29 140.98 L509.86 142.38 L510.44 143.78 L511.04 145.18 L511.64 146.57 L512.27 147.95 L512.90 149.33 L513.56 150.70 L514.23 152.06 L514.92 153.41 L515.63 154.75 L516.37 156.07 L517.13 157.37 L517.92 158.64 L518.74 159.89 L519.59 161.12 L520.47 162.31 L521.38 163.48 L522.33 164.61 L523.32 165.70 L524.34 166.75 L525.41 167.76 L526.52 168.73 L527.67 169.65 L528.86 170.53 L530.09 171.36 L531.36 172.16 L532.66 172.92 L533.98 173.64 L535.33 174.33 L536.71 174.99 L538.10 175.62 L539.51 176.23 L540.93 176.81 L542.36 177.38 L543.79 177.92 L545.23 178.45 L546.67 178.96 L548.11 179.47 L549.55 179.96 L550.99 180.44 L552.43 180.91 L553.86 181.36 L555.30 181.81 L556.74 182.26 L558.17 182.69 L559.61 183.12 L561.04 183.53 L562.48 183.95 L563.92 184.36 L565.35 184.76 L566.79 185.16 L568.23 185.55 L569.67 185.95 L571.11 186.34 L572.55 186.73 L573.99 187.12 L575.43 187.51 L576.87 187.89 L578.32 188.28 L579.77 188.67 L581.21 189.07 L582.66 189.46 L584.11 189.85 L585.56 190.24 L587.01 190.63 L588.46 191.02 L589.92 191.41 L591.37 191.79 L592.83 192.18 L594.29 192.56 L595.74 192.94 L597.20 193.32 L598.66 193.70 L600.13 194.07 L601.59 194.44 L603.05 194.80 L604.52 195.17 L605.98 195.52 L607.45 195.88 L608.92 196.23 L610.39 196.57 L611.86 196.91 L613.33 197.24 L614.80 197.57 L616.28 197.89 L617.75 198.21 L619.23 198.52 L620.70 198.82 L622.18 199.12 L623.66 199.41 L625.14 199.69 L626.62 199.96 L628.10 200.23 L629.59 200.48 L631.07 200.73 L632.55 200.97 L634.04 201.20 L635.53 201.43 L637.01 201.64 L638.50 201.85 L639.99 202.05 L641.48 202.25 L642.97 202.43 L644.46 202.61 L645.96 202.79" fill="none" stroke="#8c564b" stroke-width="1.5" stroke-linejoin="round" stroke-linecap="butt"/>
<path d="M452.00 215.50 L452.12 214.00 L452.24 212.51 L452.36 211.01 L452.48 209.51 L452.60 208.01 L452.72 206.51 L452.84 205.01 L452.96 203.51 L453.08 202.01 L453.20 200.51 L453.32 199.01 L453.44 197.51 L453.56 196.00 L453.69 194.50 L453.81 193.00 L453.93 191.50 L454.05 189.99 L454.18 188.49 L454.30 186.99 L454.43 185.48 L454.55 183.98 L454.68 182.48 L454.81 180.97 L454.94 179.47 L455.07 177.97 L455.20 176.46 L455.33 174.96 L455.46 173.46 L455.60 171.95 L455.73 170.45 L455.87 168.95 L456.01 167.44 L456.15 165.94 L456.29 164.44 L456.44 162.94 L456.58 161.44 L456.73 159.93 L456.88 158.43 L457.03 156.93 L457.18 155.43 L457.34 153.93 L457.50 152.43 L457.66 150.94 L457.82 149.44 L457.98 147.94 L458.15 146.44 L458.32 144.95 L458.49 143.45 L458.66 141.95 L458.84 140.46 L459.02 138.96 L459.20 137.47 L459.39 135.98 L459.57 134.49 L459.76 133.00 L459.96 131.51 L460.15 130.02 L460.35 128.53 L460.56 127.04 L460.76 125.55 L460.97 124.07 L461.18 122.58 L461.40 121.10 L461.62 119.62 L461.84 118.13 L462.06 116.65 L462.29 115.17 L462.52 113.69 L462.76 112.20 L463.00 110.72 L463.24 109.24 L463.48 107.76 L463.73 106.27 L463.98 104.79 L464.23 103.30 L464.49 101.82 L464.75 100.33 L465.01 98.84 L465.27 97.35 L465.54 95.86 L465.81 94.37 L466.09 92.87 L466.37 91.38 L466.65 89.88 L466.93 88.38 L467.22 86.88 L467.51 85.38 L467.83 83.88 L468.16 82.40 L468.52 80.92 L468.92 79.46 L469.35 78.01 L469.84 76.59 L470.37 75.18 L470.96 73.81 L471.61 72.46 L472.33 71.15 L473.13 69.87 L474.00 68.63 L474.97 67.45 L476.02 66.41 L477.18 65.66 L478.44 65.33 L479.80 65.51 L481.19 66.11 L482.53 66.98 L483.73 68.00 L484.78 69.12 L485.71 70.32 L486.53 71.60 L487.26 72.93 L487.92 74.31 L488.52 75.71 L489.09 77.14 L489.64 78.57 L490.18 79.99 L490.71 81.42 L491.22 82.85 L491.73 84.28 L492.23 85.71 L492.72 87.14 L493.20 88.57 L493.67 90.00 L494.14 91.43 L494.59 92.86 L495.05 94.30 L495.49 95.73 L495.94 97.16 L496.38 98.60 L496.81 100.03 L497.24 101.47 L497.67 102.91 L498.10 104.34 L498.53 105.78 L498.95 107.22 L499.38 108.66 L499.80 110.10 L500.23 111.54 L500.65 112.98 L501.08 114.43 L501.51 115.87 L501.95 117.31 L502.38 118.74 L502.82 120.18 L503.27 121.62 L503.72 123.06 L504.17 124.49 L504.63 125.93 L505.10 127.36 L505.57 128.79 L506.05 130.22 L506.54 131.65 L507.04 133.07 L507.54 134.50 L508.06 135.92 L508.58 137.34 L509.12 138.75 L509.66 140.16 L510.22 141.57 L510.78 142.98 L511.36 144.38 L511.96 145.78 L512.56 147.18 L513.18 148.57 L513.82 149.96 L514.47 151.34 L515.14 152.71 L515.83 154.06 L516.54 155.40 L517.28 156.72 L518.04 158.02 L518.84 159.30 L519.66 160.55 L520.52 161.77 L521.41 162.95 L522.33 164.11 L523.30 165.22 L524.30 166.29 L525.35 167.33 L526.44 168.31 L527.58 169.25 L528.76 170.13 L529.99 170.98 L531.25 171.78 L532.54 172.54 L533.87 173.26 L535.22 173.95 L536.59 174.61 L537.99 175.25 L539.40 175.85 L540.82 176.44 L542.25 177.00 L543.69 177.55 L545.13 178.09 L546.57 178.61 L548.01 179.12 L549.44 179.63 L550.88 180.12 L552.31 180.61 L553.73 181.09 L555.16 181.56 L556.59 182.02 L558.02 182.48 L559.44 182.92 L560.87 183.36 L562.30 183.80 L563.72 184.23 L565.15 184.65 L566.58 185.06 L568.01 185.48 L569.44 185.88 L570.88 186.28 L572.32 186.68 L573.76 187.07 L575.20 187.46 L576.64 187.85 L578.09 188.23 L579.55 188.61 L581.00 188.99 L582.46 189.36 L583.92 189.74 L585.38 190.11 L586.85 190.48 L588.32 190.84 L589.79 191.21 L591.26 191.57 L592.73 191.93 L594.20 192.29 L595.67 192.65 L597.14 193.01 L598.61 193.37 L600.09 193.73 L601.56 194.09 L603.03 194.44 L604.50 194.80 L605.97 195.16 L607.44 195.52 L608.90 195.88 L610.37 196.23 L611.84 196.59 L613.30 196.94 L614.77 197.29 L616.23 197.63 L617.70 197.97 L619.16 198.31 L620.63 198.63 L622.10 198.96 L623.57 199.27 L625.03 199.58 L626.51 199.88 L627.98 200.17 L629.45 200.45 L630.93 200.72 L632.40 200.98 L633.88 201.23 L635.37 201.47 L636.85 201.69 L638.34 201.91 L639.82 202.12 L641.31 202.33 L642.80 202.52 L644.29 202.70 L645.79 202.88 L647.28 203.05 L648.78 203.22 L650.27 203.38 L651.77 203.53 L653.27 203.68 L654.77 203.82 L656.27 203.96 L657.77 204.09 L659.28 204.23 L660.78 204.35 L662.28 204.48 L663.79 204.60 L665.29 204.72 L666.80 204.83 L668.30 204.95 L669.81 205.07 L671.32 205.18 L672.82 205.30 L674.33 205.41 L675.83 205.53 L677.34 205.64 L678.85 205.76 L680.35 205.88 L681.86 206.01 L683.36 206.13 L684.86 206.26 L686.37 206.39 L687.87 206.53 L689.37 206.67 L690.87 206.81 L692.37 206.96 L693.87 207.12 L695.37 207.27 L696.87 207.44 L698.37 207.60 L699.86 207.77 L701.36 207.94 L702.86 208.11 L704.35 208.28 L705.85 208.45 L707.34 208.62 L708.84 208.79 L710.33 208.96 L711.83 209.13 L713.32 209.30 L714.82 209.46 L716.31 209.63 L717.81 209.78 L719.30 209.94 L720.80 210.09 L722.30 210.24 L723.79 210.38 L725.29 210.51 L726.79 210.64 L728.29 210.77 L729.79 210.88 L731.29 210.99 L732.79 211.09 L734.29 211.18 L735.80 211.27 L737.30 211.34 L738.81 211.40 L740.31 211.46 L741.82 211.50 L743.33 211.53 L744.84 211.55 L746.35 211.56 L747.87 211.55 L749.38 211.53 L750.90 211.50" fill="none" stroke="#e377c2" stroke-width="1.5" stroke-linejoin="round" stroke-linecap="butt"/>
<path d="M67.8 46.9 V238.8 H395.3" fill="none" stroke="#2b2b2b" stroke-width="1.5" stroke-linecap="square"/><path d="M82.8 238.8 v5" stroke="#2b2b2b" stroke-width="1.5"/><path d="M143.2395 238.8 v5" stroke="#2b2b2b" stroke-width="1.5"/><path d="M203.73949999999996 238.8 v5" stroke="#2b2b2b" stroke-width="1.5"/><path d="M264.23949999999996 238.8 v5" stroke="#2b2b2b" stroke-width="1.5"/><path d="M324.7395 238.8 v5" stroke="#2b2b2b" stroke-width="1.5"/><path d="M385.2395 238.8 v5" stroke="#2b2b2b" stroke-width="1.5"/><path d="M67.8 51.4 h-5.2" stroke="#2b2b2b" stroke-width="1.5"/><path d="M67.8 87.06 h-5.2" stroke="#2b2b2b" stroke-width="1.5"/><path d="M67.8 122.72 h-5.2" stroke="#2b2b2b" stroke-width="1.5"/><path d="M67.8 158.38 h-5.2" stroke="#2b2b2b" stroke-width="1.5"/><path d="M67.8 194.04 h-5.2" stroke="#2b2b2b" stroke-width="1.5"/><path d="M67.8 229.7 h-5.2" stroke="#2b2b2b" stroke-width="1.5"/>
<path d="M437.2 46.9 V238.8 H763.0" fill="none" stroke="#2b2b2b" stroke-width="1.5" stroke-linecap="square"/><path d="M451.9 238.8 v5" stroke="#2b2b2b" stroke-width="1.5"/><path d="M511.38109999999995 238.8 v5" stroke="#2b2b2b" stroke-width="1.5"/><path d="M571.1611 238.8 v5" stroke="#2b2b2b" stroke-width="1.5"/><path d="M630.9411 238.8 v5" stroke="#2b2b2b" stroke-width="1.5"/><path d="M690.7211 238.8 v5" stroke="#2b2b2b" stroke-width="1.5"/><path d="M750.5011 238.8 v5" stroke="#2b2b2b" stroke-width="1.5"/><path d="M437.2 51.8 h-5.2" stroke="#2b2b2b" stroke-width="1.5"/><path d="M437.2 87.12 h-5.2" stroke="#2b2b2b" stroke-width="1.5"/><path d="M437.2 122.44 h-5.2" stroke="#2b2b2b" stroke-width="1.5"/><path d="M437.2 157.76 h-5.2" stroke="#2b2b2b" stroke-width="1.5"/><path d="M437.2 193.07999999999998 h-5.2" stroke="#2b2b2b" stroke-width="1.5"/><path d="M437.2 228.39999999999998 h-5.2" stroke="#2b2b2b" stroke-width="1.5"/>
<path d="M753.5 32.60 H776" stroke="#1f77b4" stroke-width="1.15" fill="none" stroke-dasharray="3.7 1.9"/>
<path d="M753.5 48.57 H776" stroke="#ff7f0e" stroke-width="1.15" fill="none"/>
<path d="M753.5 64.54 H776" stroke="#2ca02c" stroke-width="1.15" fill="none"/>
<path d="M753.5 80.51 H776" stroke="#d62728" stroke-width="1.15" fill="none"/>
<path d="M753.5 96.48 H776" stroke="#9467bd" stroke-width="1.15" fill="none"/>
<path d="M753.5 112.45 H776" stroke="#8c564b" stroke-width="1.15" fill="none"/>
<path d="M753.5 128.42 H776" stroke="#e377c2" stroke-width="1.15" fill="none"/>
</g>
<g filter="url(#gs)">
<text x="84.95" y="261.4" text-anchor="middle">0.01%</text>
<text x="144.29" y="261.4" text-anchor="middle">10%</text>
<text x="206.34" y="261.4" text-anchor="middle">20%</text>
<text x="268.14" y="261.4" text-anchor="middle">30%</text>
<text x="326.04" y="261.4" text-anchor="middle">40%</text>
<text x="388.04" y="261.4" text-anchor="middle">50%</text>
<text x="59.4" y="57.0" text-anchor="end">10000</text>
<text x="59.4" y="92.0" text-anchor="end">8000</text>
<text x="59.4" y="127.0" text-anchor="end">6000</text>
<text x="59.4" y="161.9" text-anchor="end">4000</text>
<text x="59.4" y="196.9" text-anchor="end">2000</text>
<text x="59.4" y="231.9" text-anchor="end">1</text>
<text x="451.25" y="261.4" text-anchor="middle">1</text>
<text x="508.38" y="261.4" text-anchor="middle">200</text>
<text x="569.66" y="261.4" text-anchor="middle">400</text>
<text x="631.04" y="261.4" text-anchor="middle">600</text>
<text x="688.02" y="261.4" text-anchor="middle">800</text>
<text x="750.8" y="261.4" text-anchor="middle">1,000</text>
<text x="429.6" y="57.0" text-anchor="end">5000</text>
<text x="429.6" y="92.0" text-anchor="end">4000</text>
<text x="429.6" y="127.1" text-anchor="end">3000</text>
<text x="429.6" y="161.8" text-anchor="end">2000</text>
<text x="429.6" y="196.9" text-anchor="end">1000</text>
<text x="429.6" y="233.3" text-anchor="end">1</text>
<text x="407.3" y="11.2" text-anchor="middle">Levels of genetic polymorphism at the plasticity modifier locus</text>
<text x="140.8" y="42.5"><tspan font-weight="bold">a</tspan> continuous migration</text>
<text x="573.8" y="42.5" text-anchor="middle"><tspan font-weight="bold">b</tspan> periodic migration,</text>
<text x="575.7" y="57.9" text-anchor="middle"><tspan font-style="italic">e</tspan><tspan font-size="8.3" dy="1.85">1</tspan><tspan dy="-1.85"> = </tspan><tspan font-style="italic">e</tspan><tspan font-size="8.3" dy="1.85">2</tspan><tspan dy="-1.85"> = 25%</tspan></text>
<text x="234.3" y="287" text-anchor="middle">Migration rate between demes per generation</text>
<text x="602.2" y="287" text-anchor="middle">Number of generations between migration events</text>
<text transform="translate(11.0 184.6) rotate(-90)" letter-spacing="0.3" style="stroke:none"><tspan font-style="italic">H</tspan><tspan font-size="8.3" dy="1.85">L</tspan><tspan dy="-1.85" dx="-1.3"> model/drift</tspan></text>
<text x="748.3" y="38.60" text-anchor="end">0.0</text>
<text x="748.3" y="54.10" text-anchor="end">0.005</text>
<text x="748.3" y="69.90" text-anchor="end">0.01</text>
<text x="748.3" y="85.70" text-anchor="end">0.015</text>
<text x="748.3" y="102.20" text-anchor="end">0.02</text>
<text x="748.3" y="117.30" text-anchor="end">0.025</text>
<text x="748.3" y="132.70" text-anchor="end">0.03</text>
<text x="748.3" y="149.20" text-anchor="end">selection</text>
<text x="748.3" y="164.20" text-anchor="end">coefficient, <tspan font-style="italic">s</tspan><tspan font-size="8.3" dy="1.85">1</tspan></text>
</g>
</svg>
</body></html>
